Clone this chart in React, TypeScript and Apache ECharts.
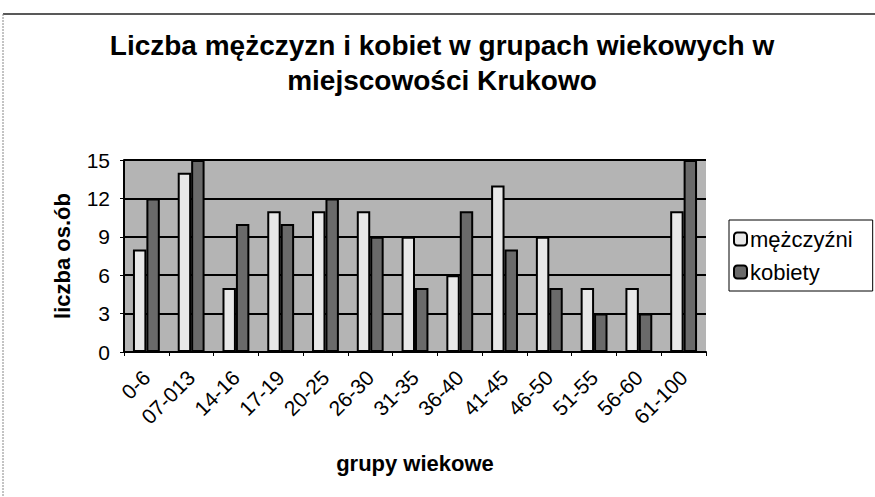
import React, { useEffect, useRef } from "react";
import * as echarts from "echarts";

const categories = ["0-6", "07-013", "14-16", "17-19", "20-25", "26-30", "31-35", "36-40", "41-45", "46-50", "51-55", "56-60", "61-100"];
const men = [8, 14, 5, 11, 11, 11, 9, 6, 13, 9, 5, 5, 11];
const women = [12, 15, 10, 10, 12, 9, 5, 11, 8, 5, 3, 3, 15];
const yTicks = { min: 0, max: 15, interval: 3 };

export default function App() {
  const ref = useRef<HTMLDivElement>(null);
  useEffect(() => {
    if (!ref.current) return;
    const chart = echarts.init(ref.current, undefined, { renderer: "svg" });
    const font = "Liberation Sans, Arial, sans-serif";
    chart.setOption({
      animation: false,
      backgroundColor: "#ffffff",
      textStyle: { fontFamily: font },
      title: {
        text: "Liczba mężczyzn i kobiet w grupach wiekowych w\nmiejscowości Krukowo",
        left: 437,
        top: 23,
        textAlign: "center",
        textStyle: { fontSize: 28, fontWeight: "bold", color: "#000", lineHeight: 35, fontFamily: font },
      },
      grid: {
        left: 124,
        right: 169,
        top: 160,
        bottom: 145,
        show: true,
        backgroundColor: "#b4b4b4",
        borderWidth: 0,
      },
      legend: {
        orient: "vertical",
        left: 729,
        top: 220,
        itemWidth: 13,
        itemHeight: 13,
        itemGap: 11,
        padding: [8, 20, 8, 4],
        borderColor: "#000",
        borderWidth: 1,
        textStyle: { fontSize: 22, color: "#000", fontFamily: font, padding: [0, 0, 0, -2] },
        data: ["mężczyźni", "kobiety"],
      },
      xAxis: {
        type: "category",
        data: categories,
        name: "grupy wiekowe",
        nameLocation: "middle",
        nameGap: 100,
        nameTextStyle: { fontSize: 22, fontWeight: "bold", color: "#000", fontFamily: font },
        axisLine: { lineStyle: { color: "#000", width: 2 } },
        axisTick: { show: true, length: 4, lineStyle: { color: "#000" } },
        axisLabel: { rotate: 45, interval: 0, fontSize: 21, color: "#000", margin: 22, fontFamily: font },
      },
      yAxis: {
        type: "value",
        min: yTicks.min,
        max: yTicks.max,
        interval: yTicks.interval,
        name: "liczba os.ób",
        nameLocation: "middle",
        nameGap: 51,
        nameTextStyle: { fontSize: 22, fontWeight: "bold", color: "#000", fontFamily: font },
        axisLine: { show: true, lineStyle: { color: "#000", width: 2 } },
        axisTick: { show: true, length: 4, lineStyle: { color: "#000" } },
        axisLabel: { fontSize: 21, color: "#000", margin: 14, fontFamily: font },
        splitLine: { show: true, lineStyle: { color: "#000", width: 2 } },
      },
      series: [
        {
          name: "mężczyźni",
          type: "bar",
          data: men,
          barGap: "0%",
          barCategoryGap: "40%",
          itemStyle: { color: "#e8e8e8", borderColor: "#000", borderWidth: 2 },
        },
        {
          name: "kobiety",
          type: "bar",
          data: women,
          barGap: "0%",
          barCategoryGap: "40%",
          itemStyle: { color: "#6a6a6a", borderColor: "#000", borderWidth: 2 },
        },
      ],
      graphic: [
        { type: "line", shape: { x1: 3, y1: 14, x2: 875, y2: 14 }, style: { stroke: "#222", lineWidth: 1.5 } },
        { type: "line", shape: { x1: 3, y1: 14, x2: 3, y2: 497 }, style: { stroke: "#888", lineWidth: 1, lineDash: [2, 1] } },
      ],
    });
    return () => chart.dispose();
  }, []);
  return <div ref={ref} style={{ position: "fixed", left: 0, top: 0, width: 875, height: 497 }} />;
}
